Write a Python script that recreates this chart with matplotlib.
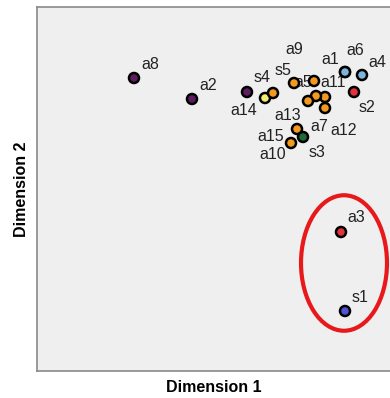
import matplotlib.pyplot as plt
from matplotlib.patches import Ellipse

plt.rcParams["font.family"] = ["Liberation Sans", "DejaVu Sans"]

# MDS-style coordinates
names = ["a1", "a2", "a3", "a4", "a5", "a6", "a7", "a8", "a9", "a10",
         "a11", "a12", "a13", "a14", "a15", "s1", "s2", "s3", "s4", "s5"]
dim1 = [1.28, -0.25, 1.24, 1.45, 0.97, 1.28, 1.08, -0.83, 0.77, 0.74,
        0.99, 1.08, 0.91, 0.48, 0.80, 1.28, 1.37, 0.86, 0.30, 0.56]
dim2 = [0.99, 0.72, -0.61, 0.96, 0.90, 0.99, 0.74, 0.93, 0.88, 0.28,
        0.75, 0.63, 0.70, 0.73, 0.42, -1.40, 0.79, 0.34, 0.79, 0.78]
group = ["blue", "purple", "red", "blue", "orange", "blue", "orange", "purple", "orange", "orange",
         "orange", "orange", "orange", "yellow", "orange", "violet", "red", "green", "purple", "orange"]

# highlighted cluster (a3, s1)
circle_center = (1.27, -0.92)
circle_size = (0.86, 1.355)

palette = {"blue": "#7fb3da", "purple": "#5e1d60", "red": "#e2323c",
           "orange": "#f39a1e", "yellow": "#f3ee70", "violet": "#5252d6",
           "green": "#1f6a35"}

# label offsets in pixels (right, up), to mimic the label placement
label_off = {"a1": (-15, 12), "a2": (16, 13), "a3": (15, 14), "a4": (15, 12),
             "a5": (-11, -2), "a6": (10, 21), "a7": (-6, -30), "a8": (16, 13),
             "a9": (0, 33), "a10": (-18, -12), "a11": (17, 13), "a12": (19, -23),
             "a13": (-20, -14), "a14": (-21, -13), "a15": (-26, -8),
             "s1": (15, 13), "s2": (13, -16), "s3": (14, -16), "s4": (15, 14),
             "s5": (10, 22)}

fig = plt.figure(figsize=(3.9, 3.98), dpi=100)
ax = fig.add_axes([37 / 390, 27 / 398, 355 / 390, 364 / 398])
ax.set_facecolor("#efefef")
ax.set_xlim(-1.8, 1.75)
ax.set_ylim(-2.0, 1.64)

ax.scatter(dim1, dim2, c=[palette[g] for g in group], s=52,
           edgecolors="black", linewidths=1.8, zorder=4)

px = 0.72  # pixels -> points
for n, x, y in zip(names, dim1, dim2):
    dx, dy = label_off[n]
    ax.annotate(n, (x, y), xytext=(dx * px, dy * px), textcoords="offset points",
                ha="center", va="center", fontsize=11.5, color="#222222", zorder=3)

ax.add_patch(Ellipse(circle_center, circle_size[0], circle_size[1], fill=False,
                     edgecolor="#e8191b", linewidth=3, zorder=5))

ax.set_xticks([]); ax.set_yticks([])
for side in ["left", "bottom", "top", "right"]:
    ax.spines[side].set_color("#8a8a8a")
    ax.spines[side].set_linewidth(1.2)

fig.text(214 / 390, 1 - 388 / 398, "Dimension 1", ha="center", va="center",
         fontsize=11.5, weight="bold")
fig.text(22 / 390, 1 - 189 / 398, "Dimension 2", ha="center", va="center",
         fontsize=11.5, weight="bold", rotation=90)

plt.savefig("out.png", dpi=100)
plt.close()
